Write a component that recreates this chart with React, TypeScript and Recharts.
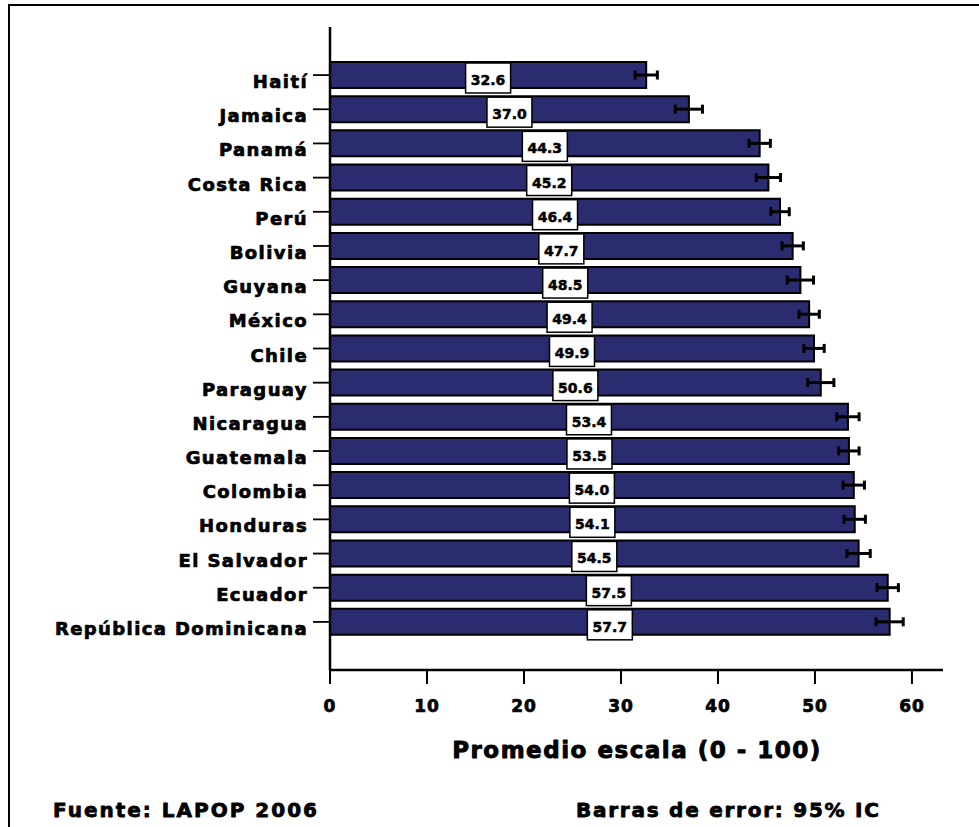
import { BarChart, Bar, XAxis, YAxis, ErrorBar, LabelList } from 'recharts';

const countries = [
  'Haití',
  'Jamaica',
  'Panamá',
  'Costa Rica',
  'Perú',
  'Bolivia',
  'Guyana',
  'México',
  'Chile',
  'Paraguay',
  'Nicaragua',
  'Guatemala',
  'Colombia',
  'Honduras',
  'El Salvador',
  'Ecuador',
  'República Dominicana',
];
const means = [32.6, 37.0, 44.3, 45.2, 46.4, 47.7, 48.5, 49.4, 49.9, 50.6, 53.4, 53.5, 54.0, 54.1, 54.5, 57.5, 57.7];
const ci95 = [1.15, 1.4, 1.1, 1.25, 0.95, 1.1, 1.35, 1.05, 1.05, 1.35, 1.15, 1.05, 1.1, 1.1, 1.2, 1.1, 1.4];
const xTicks = [0, 10, 20, 30, 40, 50, 60];

const data = countries.map((name, i) => ({ name, mean: means[i], err: ci95[i] }));

const FONT = '"DejaVu Sans", sans-serif';
const NAVY = '#2b2b70';

// the original type is a very heavy sans, so thicken DejaVu Bold a little with a stroke
const heavy = (sw: number) => ({ stroke: '#000', strokeWidth: sw, strokeLinejoin: 'round' as const });

const YTick = (props: any) => {
  const { x, y, payload } = props;
  return (
    <text x={x} y={y} dy={13} textAnchor="end" fontFamily={FONT} fontWeight="bold" fontSize={18} letterSpacing={1.4} fill="#000" {...heavy(0.7)}>
      {payload.value}
    </text>
  );
};

const XTick = (props: any) => {
  const { x, y, payload } = props;
  return (
    <text x={x} y={y} dy={24} textAnchor="middle" fontFamily={FONT} fontWeight="bold" fontSize={17} letterSpacing={1} fill="#000" {...heavy(0.7)}>
      {payload.value}
    </text>
  );
};

// white box with the value, sitting in the middle of each bar
const ValueBox = (props: any) => {
  const { x, y, width, value } = props;
  const cx = x + width / 2;
  return (
    <g>
      <rect x={cx - 22.5} y={y + 1} width={45} height={30} fill="#fff" stroke="#000" strokeWidth={1.5} />
      <text x={cx} y={y + 23} textAnchor="middle" fontFamily={FONT} fontWeight="bold" fontSize={14} fill="#000" {...heavy(0.5)}>
        {Number(value).toFixed(1)}
      </text>
    </g>
  );
};

export default function App() {
  return (
    <div style={{ position: 'absolute', left: 0, top: 0, width: 979, height: 827, overflow: 'hidden', background: '#fff' }}>
      <div
        style={{
          position: 'absolute',
          left: 8,
          top: 4,
          width: 1200,
          height: 1200,
          borderLeft: '2.5px solid #000',
          borderTop: '2.5px solid #000',
        }}
      />
      <div style={{ position: 'absolute', left: 0, top: 0 }}>
        <BarChart
          width={979}
          height={827}
          data={data}
          layout="vertical"
          margin={{ top: 27, right: 36, left: 10, bottom: 97 }}
        >
          <XAxis
            type="number"
            domain={[0, 63.2]}
            ticks={xTicks}
            allowDataOverflow
            height={60}
            axisLine={{ stroke: '#000', strokeWidth: 2.5 }}
            tickLine={{ stroke: '#000', strokeWidth: 2 }}
            tickSize={14}
            tickMargin={4}
            tick={<XTick />}
          />
          <YAxis
            type="category"
            dataKey="name"
            width={320}
            padding={{ top: 31, bottom: 31 }}
            axisLine={{ stroke: '#000', strokeWidth: 2.5 }}
            tickLine={{ stroke: '#000', strokeWidth: 1.8 }}
            tickSize={17}
            tickMargin={5}
            interval={0}
            tick={<YTick />}
          />
          <Bar dataKey="mean" fill={NAVY} stroke="#000" strokeWidth={2} barSize={26} isAnimationActive={false}>
            <ErrorBar dataKey="err" direction="x" width={4.5} stroke="#000" strokeWidth={3} />
            <LabelList dataKey="mean" content={<ValueBox />} />
          </Bar>
        </BarChart>
      </div>
      <svg width={979} height={827} style={{ position: 'absolute', left: 0, top: 0, pointerEvents: 'none' }}>
        <text x={637} y={758} textAnchor="middle" fontFamily={FONT} fontWeight="bold" fontSize={23} letterSpacing={1.5} fill="#000" {...heavy(0.9)}>
          Promedio escala (0 - 100)
        </text>
        <text x={53} y={817} fontFamily={FONT} fontWeight="bold" fontSize={20} letterSpacing={2} fill="#000" {...heavy(0.8)}>
          Fuente: LAPOP 2006
        </text>
        <text x={576} y={817} fontFamily={FONT} fontWeight="bold" fontSize={20} letterSpacing={1.75} fill="#000" {...heavy(0.8)}>
          Barras de error: 95% IC
        </text>
      </svg>
    </div>
  );
}
